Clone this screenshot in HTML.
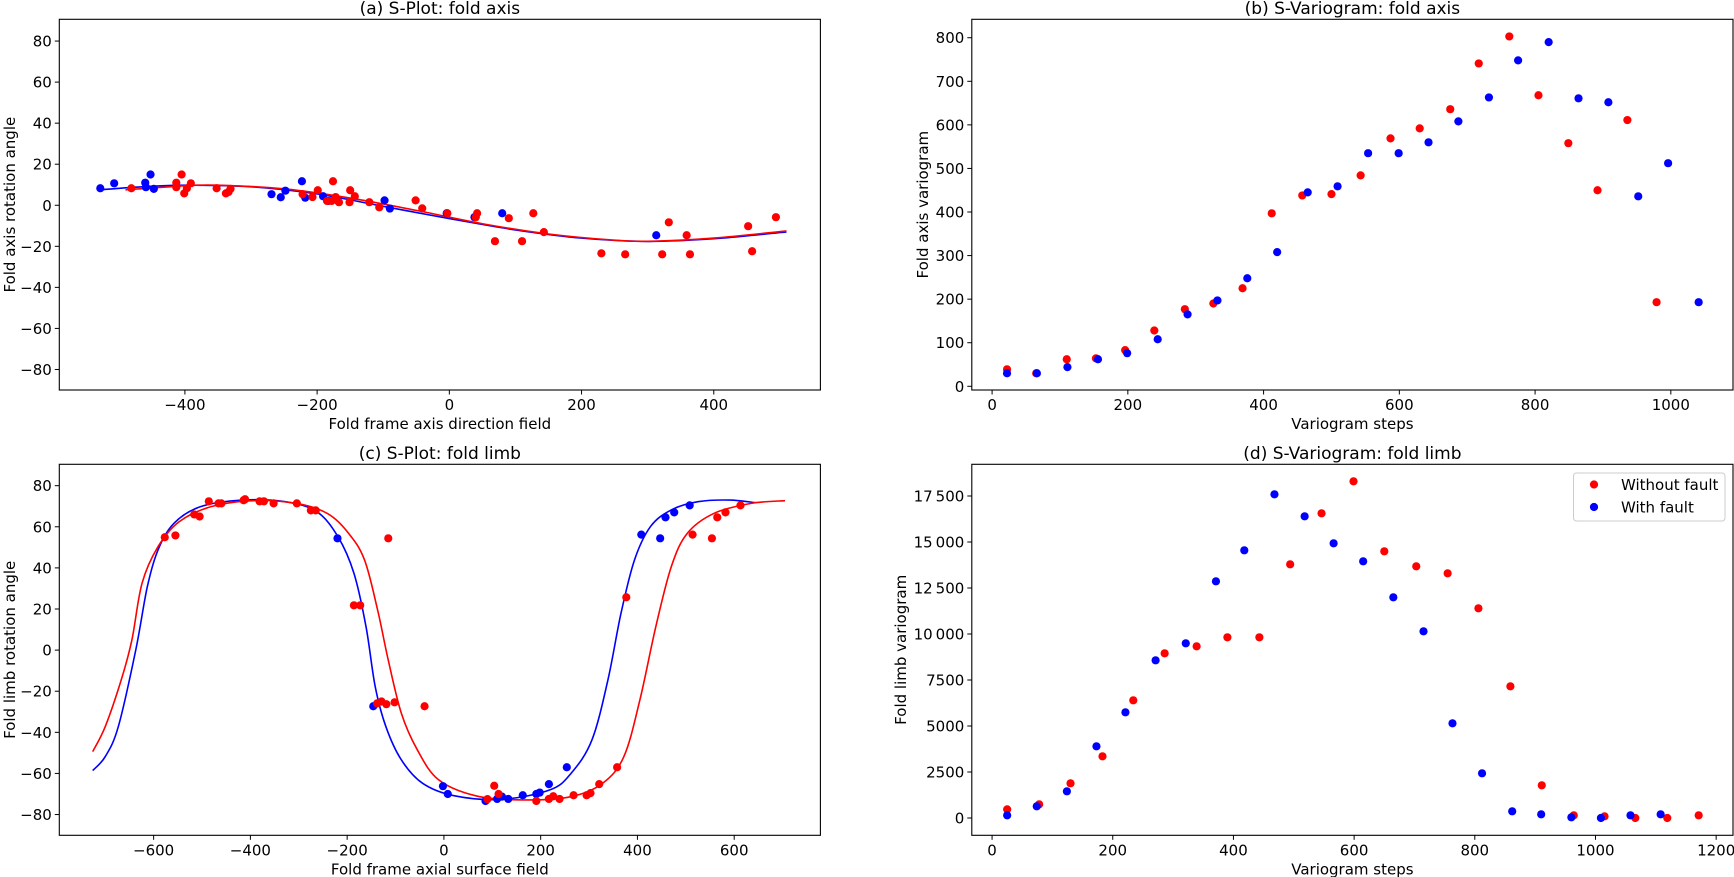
<!DOCTYPE html>
<html><head><meta charset="utf-8"><style>
html,body{margin:0;padding:0;background:#fff;}
svg{display:block;font-family:"DejaVu Sans","Liberation Sans",sans-serif;}
</style></head><body>
<svg id="fig" width="1734" height="877" viewBox="0 0 1734 877" xmlns="http://www.w3.org/2000/svg"></svg>
<script>
// ---- Panel (a) data ----
const aRedX=[-481,-413,-413,-405,-401,-397,-391,-352,-338,-334,-331,-222,-207,-199,-185,-178,-176,-172,-167,-151,-150,-143,-121,-106,-51,-41,-3,40,42,69,90,110,127,143,230,266,322,332,359,364,452,458,494];
const aRedY=[8.3,11,8.8,15,5.8,8.3,10.7,8.3,5.8,6.5,8,5.4,4,7.3,2.1,2.1,11.7,4,1.5,1.5,7.3,4.4,1.5,-1,2.4,-1.5,-3.9,-5.8,-3.9,-17.5,-6.3,-17.5,-3.9,-13.1,-23.4,-23.9,-23.9,-8.3,-14.6,-23.9,-10.2,-22.4,-5.8];
const aBlueX=[-528,-507,-460,-459,-452,-447,-269,-255,-248,-223,-218,-191,-183,-98,-90,-4,38,80,313];
const aBlueY=[8.3,10.7,11,8.8,15,8,5.4,3.9,7.1,11.7,3.7,4.4,2.1,2.4,-1.6,-3.9,-5.8,-3.9,-14.6];
const aBlueFitX=[-530,-450,-390,-300,-200,-100,0,100,200,300,400,510];
const aBlueFitY=[7.5,9.3,9.8,9,5.5,-0.5,-6.5,-12,-16,-17.6,-16.3,-13];
const aRedFitX=[-490,-400,-350,-250,-150,-50,50,150,250,310,400,510];
const aRedFitY=[7.5,9.5,9.8,8,3.5,-2.5,-9,-14,-17,-17.5,-16,-12.5];
const aXTicks=[-400,-200,0,200,400];
const aYTicks=[-80,-60,-40,-20,0,20,40,60,80];
// ---- Panel (b) data ----
const bRedX=[22,65,110,153,196,239,284,326,369,412,457,500,543,587,630,675,717,762,805,849,892,936,979];
const bRedY=[39,30,62,64,83,128,177,190,225,397,438,441,484,569,592,636,741,803,668,558,450,611,193];
const bBlueX=[22,66,111,156,199,244,288,332,376,420,465,509,554,599,643,687,732,775,820,864,908,952,996,1041];
const bBlueY=[30,30,44,62,76,108,165,197,248,308,445,459,535,535,560,608,663,748,790,661,652,436,512,193];
const bXTicks=[0,200,400,600,800,1000];
const bYTicks=[0,100,200,300,400,500,600,700,800];
// ---- Panel (c) data ----
const cRedX=[-577,-555,-516,-505,-486,-466,-460,-414,-411,-381,-372,-352,-304,-275,-265,-186,-173,-138,-129,-119,-115,-102,-40,90,104,113,191,217,226,239,268,295,303,321,358,377,514,554,565,582,613];
const cRedY=[54.9,55.8,66,65,72.4,71.4,71.4,72.9,73.4,72.4,72.4,71.4,71.4,68,68,21.8,21.8,-25.9,-25,-26.3,54.4,-25.4,-27.3,-72.5,-66,-70,-73.4,-72.4,-71.1,-72.4,-70.6,-70.6,-69.6,-65.2,-57,25.7,56.2,54.4,64.6,67,70.4];
const cBlueX=[-220,-146,-2,8,86,110,120,133,163,191,198,217,254,408,447,458,476,508];
const cBlueY=[54.4,-27.3,-66.2,-70,-73.4,-72.4,-71.3,-72.4,-70.6,-70,-69.3,-65.2,-57,56.2,54.4,64.6,67,70.4];
const cBlueFitX=[-726,-700,-673,-637,-613,-591,-558,-503,-416,-328,-263,-219,-186,-161,-142,-120,-88,-44,22,120,219,263,306,339,366,394,427,470,525,591,645];
const cBlueFitY=[-58.6,-51.8,-37.2,0,30.9,48.7,61.7,69.8,73,72.2,67.4,55.2,37.4,11.4,-17.8,-37.2,-53.4,-64.8,-70.9,-72.6,-68,-59.9,-43.7,-14.5,17.9,43.9,60.1,68.2,72.2,73,71.7];
const cRedFitX=[-726,-700,-667,-645,-624,-591,-547,-481,-394,-306,-241,-197,-164,-137,-115,-88,-55,-11,66,164,263,328,372,405,438,470,503,558,635,705];
const cRedFitY=[-49.4,-37.2,-14.5,4.9,32.5,50.3,62.5,69.8,72.7,71.4,66.5,56.8,43.8,19.5,-4.9,-30.7,-48.5,-63.1,-70.9,-72.9,-71.3,-64.8,-51.8,-24.3,11.4,40.6,56.8,66.5,71.4,72.7];
const cXTicks=[-600,-400,-200,0,200,400,600];
const cYTicks=[-80,-60,-40,-20,0,20,40,60,80];
// ---- Panel (d) data ----
const dRedX=[25,78,130,183,234,286,339,390,443,494,546,599,650,703,755,806,859,911,964,1015,1066,1119,1171];
const dRedY=[470,743,1886,3353,6397,8951,9332,9821,9821,13788,16560,18299,14495,13680,13299,11397,7157,1777,147,92,0,0,147];
const dBlueX=[25,74,124,173,221,271,321,371,418,468,518,566,615,665,715,763,812,862,910,960,1009,1058,1108];
const dBlueY=[147,636,1451,3897,5745,8571,9495,12864,14549,17592,16397,14929,13951,11995,10147,5147,2429,364,201,38,0,147,201];
const dXTicks=[0,200,400,600,800,1000,1200];
const dYTicks=[0,2500,5000,7500,10000,12500,15000,17500];
const dYTickLabels=["0","2500","5000","7500","10\u2009000","12\u2009500","15\u2009000","17\u2009500"];

const NS="http://www.w3.org/2000/svg";
const fig=document.getElementById('fig');
function mk(tag,attrs,parent){const e=document.createElementNS(NS,tag);for(const k in attrs)e.setAttribute(k,attrs[k]);(parent||fig).appendChild(e);return e;}
function fmt(v){return v<0?'\u2212'+Math.abs(v):String(v);}
function smooth(P){
  let d='M'+P[0][0].toFixed(2)+' '+P[0][1].toFixed(2);
  for(let i=0;i<P.length-1;i++){
    const p0=P[Math.max(0,i-1)],p1=P[i],p2=P[i+1],p3=P[Math.min(P.length-1,i+2)];
    const c1x=p1[0]+(p2[0]-p0[0])/6,c1y=p1[1]+(p2[1]-p0[1])/6;
    const c2x=p2[0]-(p3[0]-p1[0])/6,c2y=p2[1]-(p3[1]-p1[1])/6;
    d+='C'+c1x.toFixed(2)+' '+c1y.toFixed(2)+' '+c2x.toFixed(2)+' '+c2y.toFixed(2)+' '+p2[0].toFixed(2)+' '+p2[1].toFixed(2);
  }
  return d;
}

function panel(p){
  const g=mk('g',{});
  
  
  const sx=v=>p.x0px+(v-p.xd0)/(p.xd1-p.xd0)*(p.x1px-p.x0px);
  const sy=v=>p.y0px-(v-p.yd0)/(p.yd1-p.yd0)*(p.y0px-p.y1px);
  (p.curves||[]).forEach(c=>{
    const P=c.x.map((xv,i)=>[sx(xv),sy(c.y[i])]);
    const pl=mk('path',{d:smooth(P),fill:'none',stroke:c.color,'stroke-width':1.6},g);
    
    
  });
  p.series.forEach(s=>{
    const sg=mk('g',{fill:s.color},g);
    
    
    s.x.forEach((xv,i)=>{
      const c=mk('circle',{cx:sx(xv).toFixed(2),cy:sy(s.y[i]).toFixed(2),r:4.1},sg);
      
      
    });
  });
  const fr=mk('rect',{x:p.x0px,y:p.y1px,width:p.x1px-p.x0px,height:p.y0px-p.y1px,fill:'none',stroke:'#000','stroke-width':1.1},g);
  
  
  p.xt.forEach(t=>{
    const X=sx(t);
    mk('line',{x1:X,x2:X,y1:p.y0px,y2:p.y0px+4.5,stroke:'#000','stroke-width':1},g);
    const tx=mk('text',{x:X,y:p.y0px+20,'text-anchor':'middle','font-size':15},g);
    tx.textContent=fmt(t);
    
    
  });
  p.yt.forEach((t,i)=>{
    const Y=sy(t);
    mk('line',{x1:p.x0px-4.5,x2:p.x0px,y1:Y,y2:Y,stroke:'#000','stroke-width':1},g);
    const ty=mk('text',{x:p.x0px-7.5,y:Y+5.5,'text-anchor':'end','font-size':15},g);
    ty.textContent=p.ytl?p.ytl[i]:fmt(t);
    
    
  });
  const cx=(p.x0px+p.x1px)/2;
  const ti=mk('text',{x:cx,y:p.y1px-5.5,'text-anchor':'middle','font-size':17},g);
  ti.textContent=p.title;
  
  
  const xl=mk('text',{x:cx,y:p.y0px+39,'text-anchor':'middle','font-size':15},g);
  xl.textContent=p.xlabel;
  
  
  const cy=(p.y0px+p.y1px)/2;
  const yl=mk('text',{x:p.ylx,y:cy,'text-anchor':'middle','font-size':15,transform:'rotate(-90 '+p.ylx+' '+cy+')'},g);
  yl.textContent=p.ylabel;
  
  
}

panel({name:'panel-a-splot-fold-axis',x0px:59.3,x1px:820.4,y0px:390,y1px:19.3,xd0:-590,xd1:561.3,yd0:-90,yd1:90.6,
  xt:aXTicks,yt:aYTicks,title:'(a) S-Plot: fold axis',xlabel:'Fold frame axis direction field',ylabel:'Fold axis rotation angle',ylx:15,
  curves:[{name:'blue-fit-curve',color:'#0000ff',x:aBlueFitX,y:aBlueFitY},{name:'red-fit-curve',color:'#ff0000',x:aRedFitX,y:aRedFitY}],
  series:[{name:'with-fault-points',color:'#0000ff',x:aBlueX,y:aBlueY},{name:'without-fault-points',color:'#ff0000',x:aRedX,y:aRedY}]});
panel({name:'panel-b-svariogram-fold-axis',x0px:971.8,x1px:1733,y0px:390,y1px:19.3,xd0:-29.9,xd1:1091.6,yd0:-8.5,yd1:842.3,
  xt:bXTicks,yt:bYTicks,title:'(b) S-Variogram: fold axis',xlabel:'Variogram steps',ylabel:'Fold axis variogram',ylx:928,
  series:[{name:'without-fault-points',color:'#ff0000',x:bRedX,y:bRedY},{name:'with-fault-points',color:'#0000ff',x:bBlueX,y:bBlueY}]});
panel({name:'panel-c-splot-fold-limb',x0px:59.3,x1px:820.4,y0px:835.3,y1px:464.3,xd0:-795,xd1:778.2,yd0:-90.1,yd1:90.4,
  xt:cXTicks,yt:cYTicks,title:'(c) S-Plot: fold limb',xlabel:'Fold frame axial surface field',ylabel:'Fold limb rotation angle',ylx:15,
  curves:[{name:'blue-fit-curve',color:'#0000ff',x:cBlueFitX,y:cBlueFitY},{name:'red-fit-curve',color:'#ff0000',x:cRedFitX,y:cRedFitY}],
  series:[{name:'with-fault-points',color:'#0000ff',x:cBlueX,y:cBlueY},{name:'without-fault-points',color:'#ff0000',x:cRedX,y:cRedY}]});
panel({name:'panel-d-svariogram-fold-limb',x0px:971.8,x1px:1733,y0px:835.3,y1px:464.3,xd0:-33.6,xd1:1227.9,yd0:-940,yd1:19223,
  xt:dXTicks,yt:dYTicks,ytl:dYTickLabels,title:'(d) S-Variogram: fold limb',xlabel:'Variogram steps',ylabel:'Fold limb variogram',ylx:906,
  series:[{name:'without-fault-points',color:'#ff0000',x:dRedX,y:dRedY},{name:'with-fault-points',color:'#0000ff',x:dBlueX,y:dBlueY}]});
</script>
<svg style="position:absolute;left:0;top:0;font-family:'DejaVu Sans','Liberation Sans',sans-serif" width="1734" height="877">
  <rect x="1573.5" y="473" width="151.5" height="48" rx="3" fill="#fff" fill-opacity="0.8" stroke="#cccccc"/>
  <circle cx="1594" cy="484.5" r="4.1" fill="#ff0000"/>
  <text x="1621" y="490" font-size="15">Without fault</text>
  <circle cx="1594" cy="507" r="4.1" fill="#0000ff"/>
  <text x="1621" y="512.5" font-size="15">With fault</text>
</svg>
</body></html>
